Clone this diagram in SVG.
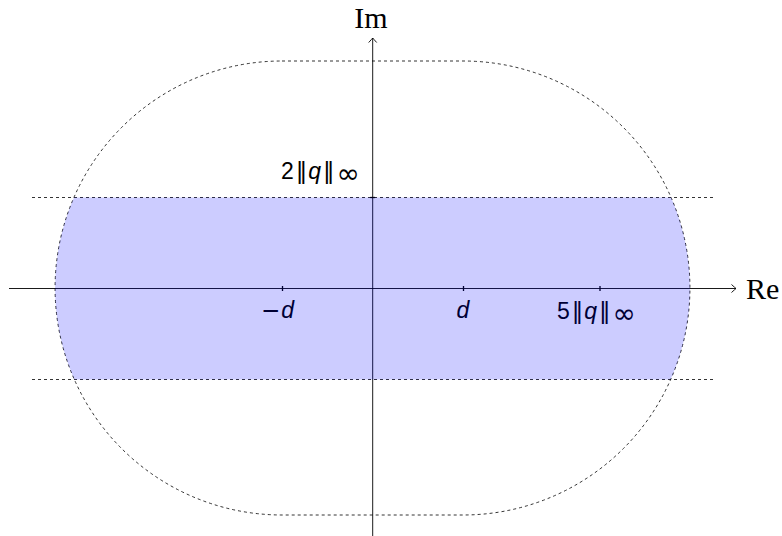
<svg xmlns="http://www.w3.org/2000/svg" width="782" height="536" viewBox="0 0 782 536">
<defs>
<style>
.dash{fill:none;stroke:#000;stroke-width:0.8;stroke-dasharray:3 3}
.axis{fill:none;stroke:#000;stroke-width:0.9}
.tick{stroke:#000;stroke-width:1.3}
.lbl{font-family:"Liberation Sans","DejaVu Sans",sans-serif;font-size:23px;fill:#000}
.ser{font-family:"Liberation Serif","DejaVu Serif",serif;font-size:30px;fill:#000}
.it{font-style:italic}
.dv{font-family:"DejaVu Sans",sans-serif}
.inf{font-family:"DejaVu Sans",sans-serif;font-size:28px}
</style>
<marker id="arr" viewBox="-6 -5 8 10" markerWidth="8" markerHeight="10" refX="0" refY="0" orient="auto" markerUnits="userSpaceOnUse">
<path d="M-4.5,-4 Q-1,-0.8 0,0 Q-1,0.8 -4.5,4" fill="none" stroke="#000" stroke-width="0.9"/>
</marker>
<clipPath id="stad">
<path d="M282,61 L463,61 A227,227 0 0 1 463,515 L282,515 A227,227 0 0 1 282,61 Z"/>
</clipPath>
</defs>
<g id="region">
<path class="dash" d="M282,61 L463,61 A227,227 0 0 1 463,515 L282,515 A227,227 0 0 1 282,61 Z"/>
<line class="dash" x1="32" y1="197.5" x2="714" y2="197.5"/>
<line class="dash" x1="32" y1="379.5" x2="714" y2="379.5"/>
</g>
<g id="connectors">
<line id="re-axis" class="axis" x1="9" y1="288.5" x2="736" y2="288.5" marker-end="url(#arr)"/>
<line id="im-axis" class="axis" x1="372.7" y1="536" x2="372.7" y2="38" marker-end="url(#arr)"/>
</g>
<g id="ticks">
<line class="tick" x1="282.5" y1="286" x2="282.5" y2="291"/>
<line class="tick" x1="463.5" y1="286" x2="463.5" y2="291"/>
<line class="tick" x1="600" y1="286" x2="600" y2="291"/>
<line class="tick" x1="370.2" y1="197.5" x2="375.2" y2="197.5"/>
</g>
<g id="labels">
<text id="im" class="ser" x="371" y="28" text-anchor="middle">Im</text>
<text id="re" class="ser" x="746" y="299">Re</text>
<text id="two-q" class="lbl" x="281" y="179">2<tspan class="dv" dx="2">‖</tspan><tspan class="it" dx="1">q</tspan><tspan class="dv" dx="2">‖</tspan><tspan class="inf" dx="2" dy="4">∞</tspan></text>
<text id="minus-d" class="lbl" x="261" y="318"><tspan class="dv">−</tspan><tspan class="it" dx="1">d</tspan></text>
<text id="d" class="lbl it" x="463" y="318" text-anchor="middle">d</text>
<text id="five-q" class="lbl" x="557" y="319">5<tspan class="dv" dx="2">‖</tspan><tspan class="it" dx="1">q</tspan><tspan class="dv" dx="2">‖</tspan><tspan class="inf" dx="2" dy="4">∞</tspan></text>
</g>
<g id="band">
<rect x="0" y="197.5" width="782" height="182" fill="#0000ff" fill-opacity="0.2" clip-path="url(#stad)"/>
</g>
</svg>
